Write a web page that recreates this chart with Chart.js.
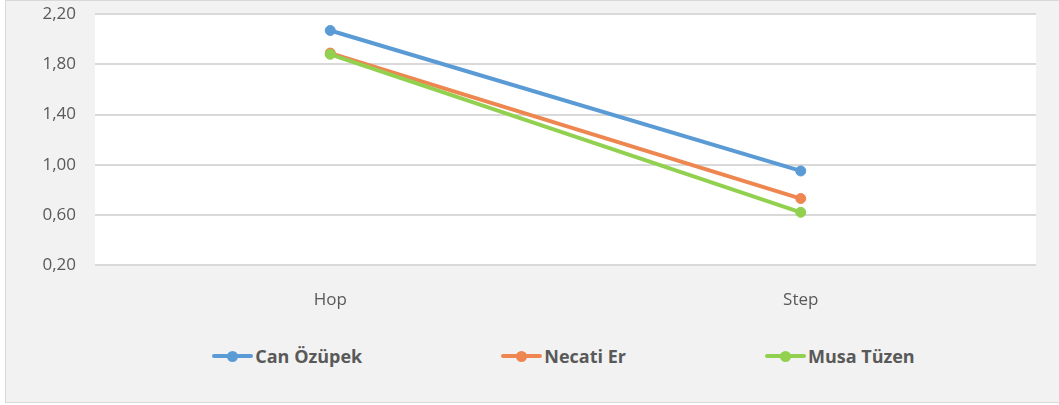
<!DOCTYPE html>
<html>
<head>
<meta charset="utf-8">
<script src="https://cdn.jsdelivr.net/npm/chart.js@4"></script>
<style>
    body {
        margin: 0;
        background: #ffffff;
        font-family: 'Open Sans', sans-serif;
    }
    #box {
        position: absolute;
        left: 5px;
        top: 0;
        width: 1060px;
        height: 401px;
        border: 1px solid #d9d9d9;
        background: #f2f2f2;
        overflow: hidden;
    }
    #chart-wrap {
        position: absolute;
        left: 0;
        top: -16px;
        width: 1053px;
        height: 336px;
    }
    #legend {
        position: absolute;
        left: 0;
        top: 343px;
        width: 1053px;
        padding-left: 62px;
        box-sizing: border-box;
        display: flex;
        justify-content: center;
        color: #595959;
        font-weight: bold;
        font-size: 18px;
    }
    .item {
        display: flex;
        align-items: center;
        margin: 0 69.5px;
        height: 24px;
    }
    .marker {
        position: relative;
        width: 41px;
        height: 4px;
        border-radius: 2px;
        margin-right: 2px;
    }
    .marker span {
        position: absolute;
        left: 15px;
        top: -3.5px;
        width: 11px;
        height: 11px;
        border-radius: 50%;
    }
</style>
</head>
<body>
<div id="box">
    <div id="chart-wrap"><canvas id="myChart"></canvas></div>
    <div id="legend"></div>
</div>
<script>
const categories = ['Hop', 'Step'];
const seriesNames = ['Can Özüpek', 'Necati Er', 'Musa Tüzen'];
const canOzupek = [2.07, 0.95];
const necatiEr = [1.89, 0.73];
const musaTuzen = [1.88, 0.62];
const yTicks = [0.2, 0.6, 1.0, 1.4, 1.8, 2.2];

const colors = ['#5b9bd5', '#ee8650', '#92d050'];
const values = [canOzupek, necatiEr, musaTuzen];

function makeDataset(i) {
    return {
        label: seriesNames[i],
        data: values[i],
        borderColor: colors[i],
        backgroundColor: colors[i],
        borderWidth: 4,
        pointRadius: 5,
        pointBorderWidth: 1,
        pointHoverRadius: 5,
        order: 3 - i, // later series drawn on top, like the original
        fill: false
    };
}

const ctx = document.getElementById('myChart').getContext('2d');

const myChart = new Chart(ctx, {
    type: 'line',
    data: {
        labels: categories,
        datasets: seriesNames.map((_, i) => makeDataset(i))
    },
    plugins: [{
        id: 'plotBg',
        beforeDraw(chart) {
            const a = chart.chartArea;
            chart.ctx.save();
            chart.ctx.fillStyle = '#ffffff';
            chart.ctx.fillRect(a.left, a.top, a.right - a.left, a.bottom - a.top);
            chart.ctx.restore();
        }
    }],
    options: {
        responsive: true,
        maintainAspectRatio: false,
        animation: false,
        layout: {
            padding: { left: 0, right: 23, top: 0, bottom: 0 }
        },
        plugins: {
            legend: { display: false },
            tooltip: { enabled: false }
        },
        scales: {
            x: {
                offset: true,
                grid: { display: false },
                border: { display: false },
                ticks: {
                    color: '#595959',
                    font: { family: 'Open Sans', size: 17 },
                    padding: 17
                },
                afterFit(scale) {
                    scale.height = 56;
                }
            },
            y: {
                min: yTicks[0],
                max: yTicks[yTicks.length - 1],
                afterBuildTicks(scale) {
                    scale.ticks = yTicks.map(v => ({ value: v }));
                },
                grid: {
                    color: '#d9d9d9',
                    lineWidth: 2,
                    drawTicks: false
                },
                border: { display: false },
                ticks: {
                    color: '#595959',
                    font: { family: 'Open Sans', size: 17 },
                    padding: 19,
                    callback: v => Number(v).toFixed(2).replace('.', ',')
                },
                afterFit(scale) {
                    scale.width = 89;
                }
            }
        }
    }
});

// html legend, same order as the series
const legend = document.getElementById('legend');
seriesNames.forEach((name, i) => {
    const item = document.createElement('div');
    item.className = 'item';
    item.innerHTML = '<div class="marker" style="background:' + colors[i] + '"><span style="background:' + colors[i] + '"></span></div>' + name;
    legend.appendChild(item);
});
</script>
</body>
</html>
